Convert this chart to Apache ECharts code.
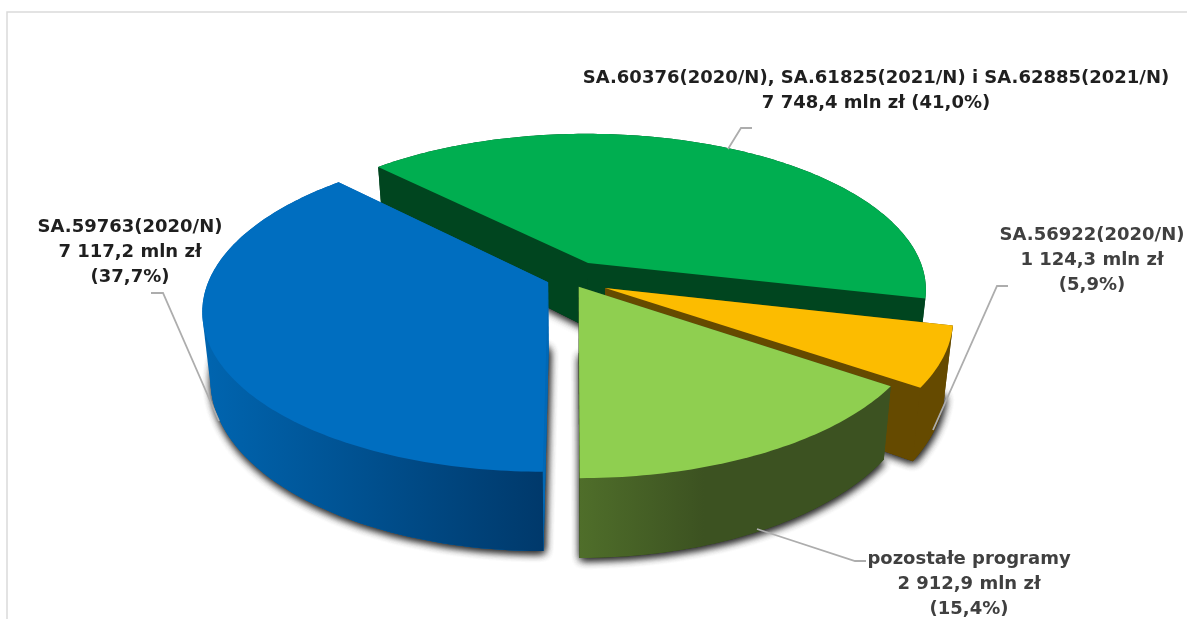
<!DOCTYPE html>
<html>
<head>
<meta charset="utf-8">
<title>Programy pomocowe</title>
<script src="https://cdn.jsdelivr.net/npm/echarts@6/dist/echarts.min.js"></script>
<style>
  html, body { margin: 0; padding: 0; background: #fff; }
  #chart { width: 1187px; height: 619px; }
</style>
</head>
<body>
<div id="chart"></div>
<script>
// slices, in drawing order (back to front)
var categories = [
    "SA.60376(2020/N), SA.61825(2021/N) i SA.62885(2021/N)",
    "SA.56922(2020/N)",
    "pozostałe programy",
    "SA.59763(2020/N)"
];
var values = [7748.4, 1124.3, 2912.9, 7117.2];
var valueLabels = ["7 748,4 mln zł", "1 124,3 mln zł", "2 912,9 mln zł", "7 117,2 mln zł"];
var percentLabels = ["(41,0%)", "(5,9%)", "(15,4%)", "(37,7%)"];

// look of each slice
var topColors = ["#00ae50", "#fcbc00", "#8fcf50", "#006ec0"];
var wallColors = [
    ["#00451f", "#00451f"],
    ["#654a00", "#654a00"],
    ["#4f6e2a", "#3c5221", "#3c5221"],
    ["#0065b0", "#00396b"]
];
var innerColors = ["#00451f", "#654a00", "#3c5221", "#0068b6"];
var explodeU = [0.036, 0.085, 0.008, -0.082];
var explodeV = [-0.0915, 0.07, 0.062, 0.034];

// labels and their leader lines
var labelPos = [[876, 91], [1092, 260], [969, 584], [130, 252]];
var labelColors = ["#1f1f1f", "#404040", "#404040", "#1f1f1f"];
var labelOneLine = [true, false, false, false];
var leaders = [
    [[728, 149], [741, 128], [752, 128]],
    [[933, 430], [997, 286], [1008, 286]],
    [[757, 529], [855, 561], [866, 561]],
    [[219, 421], [163, 293], [151, 293]]
];

// perspective of the disc
var START_ANGLE = 315.5;
var X0 = 576, Y0 = 277;
var A = 338, B = 155.4, P = 0.169;
var DEPTH = 65.5, BOTTOM_SCALE = 0.978;

var total = 0;
values.forEach(function(v) { total += v; });

function project(u, v) {
    var w = 1 - P * v;
    return { x: X0 + A * u / w, y: Y0 + B * v / w, w: w };
}

function topPoint(p) {
    return [p.x, p.y];
}

function bottomPoint(p) {
    return [X0 + (p.x - X0) * BOTTOM_SCALE, p.y + DEPTH / p.w];
}

function rimPoint(deg, i) {
    var rad = deg * Math.PI / 180;
    return project(Math.sin(rad) + explodeU[i], -Math.cos(rad) + explodeV[i]);
}

function sliceAngles(i) {
    var start = START_ANGLE;
    for (var k = 0; k < i; k++) {
        start += values[k] / total * 360;
    }
    return [start, start + values[i] / total * 360];
}

// outline of the swept rim, so the wall meets the top edge without a notch
function convexHull(points) {
    var pts = points.slice().sort(function(a, b) {
        return a[0] - b[0] || a[1] - b[1];
    });
    function cross(o, a, b) {
        return (a[0] - o[0]) * (b[1] - o[1]) - (a[1] - o[1]) * (b[0] - o[0]);
    }
    function half(list) {
        var out = [];
        list.forEach(function(p) {
            while (out.length >= 2 && cross(out[out.length - 2], out[out.length - 1], p) <= 0) {
                out.pop();
            }
            out.push(p);
        });
        out.pop();
        return out;
    }
    return half(pts).concat(half(pts.slice().reverse()));
}

function wallFill(i) {
    var colors = wallColors[i];
    var stops = colors.map(function(c, n) {
        return { offset: n / (colors.length - 1), color: c };
    });
    if (colors.length === 3) {
        stops[1].offset = 0.4;
    }
    return new echarts.graphic.LinearGradient(0, 0, 1, 0, stops);
}

function shadowFace(points, i) {
    return {
        type: 'polygon',
        shape: { points: points },
        style: {
            fill: innerColors[i],
            shadowColor: 'rgba(30,30,30,0.9)',
            shadowBlur: 8,
            shadowOffsetX: 1,
            shadowOffsetY: 2
        }
    };
}

function renderSlice(params, api) {
    var i = params.dataIndex;
    var angles = sliceAngles(i);
    var rim = [];
    var steps = Math.ceil(angles[1] - angles[0]);
    for (var s = 0; s <= steps; s++) {
        rim.push(rimPoint(angles[0] + (angles[1] - angles[0]) * s / steps, i));
    }
    var apex = project(explodeU[i], explodeV[i]);
    var rimTop = rim.map(topPoint);
    var rimBottom = rim.map(bottomPoint);
    var first = rim[0], last = rim[rim.length - 1];
    var bottomFace = [bottomPoint(apex)].concat(rimBottom);

    var children = [
        shadowFace(bottomFace, i),
        shadowFace(bottomFace, i),
        {
            type: 'polygon',
            shape: { points: [topPoint(apex), topPoint(first), bottomPoint(first), bottomPoint(apex)] },
            style: { fill: innerColors[i] }
        },
        {
            type: 'polygon',
            shape: { points: [topPoint(apex), topPoint(last), bottomPoint(last), bottomPoint(apex)] },
            style: { fill: innerColors[i] }
        },
        {
            type: 'polygon',
            shape: { points: convexHull(rimTop.concat(rimBottom)) },
            style: { fill: wallFill(i) }
        },
        {
            type: 'polygon',
            shape: { points: [topPoint(apex)].concat(rimTop) },
            style: { fill: topColors[i] }
        }
    ];
    return { type: 'group', children: children };
}

function renderLabel(params, api) {
    var i = params.dataIndex;
    var text = labelOneLine[i]
        ? categories[i] + "\n" + valueLabels[i] + " " + percentLabels[i]
        : categories[i] + "\n" + valueLabels[i] + "\n" + percentLabels[i];
    return {
        type: 'group',
        children: [
            {
                type: 'polyline',
                shape: { points: leaders[i] },
                style: { stroke: '#adadad', lineWidth: 1.8, fill: null }
            },
            {
                type: 'text',
                style: {
                    text: text,
                    x: labelPos[i][0],
                    y: labelPos[i][1],
                    align: 'center',
                    verticalAlign: 'middle',
                    fontFamily: 'DejaVu Sans',
                    fontWeight: 'bold',
                    fontSize: 18,
                    lineHeight: 25,
                    fill: labelColors[i]
                }
            }
        ]
    };
}

var myChart = echarts.init(document.getElementById('chart'));
var option = {
    animation: false,
    backgroundColor: '#fff',
    graphic: [
        {
            type: 'polyline',
            silent: true,
            shape: { points: [[7, 619], [7, 12], [1187, 12]] },
            style: { stroke: '#dadada', lineWidth: 1.5, fill: null }
        }
    ],
    series: [
        {
            type: 'custom',
            coordinateSystem: 'none',
            silent: true,
            z: 2,
            renderItem: renderSlice,
            data: values
        },
        {
            type: 'custom',
            coordinateSystem: 'none',
            silent: true,
            z: 3,
            renderItem: renderLabel,
            data: values
        }
    ]
};
myChart.setOption(option);
</script>
</body>
</html>
